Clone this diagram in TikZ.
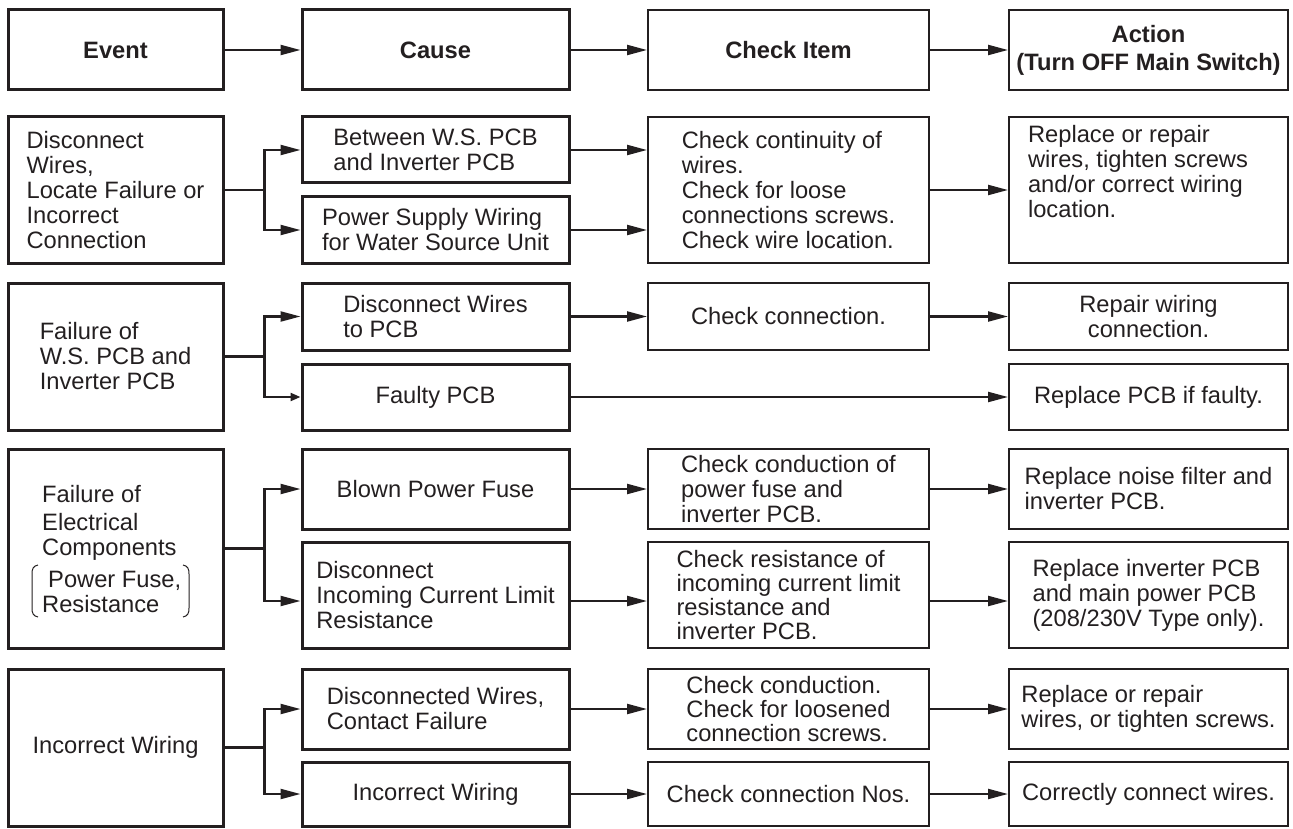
\documentclass[tikz,border=0pt]{standalone}
\usepackage{fontspec}
\setmainfont{Liberation Sans}
\usetikzlibrary{arrows.meta,calc}
\definecolor{ink}{HTML}{231F20}

\tikzset{
  body/.style={font=\fontsize{23.7}{25}\selectfont},
  txt/.style={body, text=ink, align=left, inner sep=0pt},
  boxbase/.style={draw=ink, rectangle, inner sep=0pt, body, text=ink, align=left},
  heavy/.style={boxbase, line width=3pt},
  light/.style={boxbase, line width=2pt},
  hdr/.style={font=\bfseries\fontsize{23.7}{28}\selectfont, align=center},
  wire/.style={draw=ink, line width=2.2pt},
  link/.style={wire, -{Triangle[length=20pt,width=10pt]}},
  linksmall/.style={wire, -{Triangle[length=10pt,width=8pt]}},
  paren/.style={draw=ink, line width=1pt},
}

% \boxat{name}{style}{left}{top}{right}{bottom}{text}
\newcommand\boxat[7]{%
  \node[#2, minimum width={#5-#3}, minimum height={#6-#4}] (#1)
    at ({(#3+#5)/2},{(#4+#6)/2}) {#7};}

\begin{document}
\begin{tikzpicture}[x=1pt,y=-1pt]
\useasboundingbox (0,0) rectangle (1293,829);

% column headings
\boxat{h1}{heavy,hdr}{8}{10}{223}{90}{Event}
\boxat{h2}{heavy,hdr}{302}{10}{569}{90}{Cause}
\boxat{h3}{light,hdr}{648}{10}{929}{90}{Check Item}
\boxat{h4}{light,hdr}{1009}{10}{1288}{90}{Action\\(Turn OFF Main Switch)}
\draw[link] (h1.east) -- (h2.west);
\draw[link] (h2.east) -- (h3.west);
\draw[link] (h3.east) -- (h4.west);

% wiring faults
\boxat{e1}{heavy}{8}{117}{223}{263}{Disconnect\\Wires,\\Locate Failure or\\Incorrect\\Connection}
\boxat{c1a}{heavy}{302}{117}{569}{183}{Between W.S. PCB\\and Inverter PCB}
\boxat{c1b}{heavy}{302}{197}{569}{263}{Power Supply Wiring\\for Water Source Unit}
\boxat{k1}{light}{648}{117}{929}{263}{Check continuity of\\wires.\\Check for loose\\connections screws.\\Check wire location.}
\boxat{a1}{light}{1009}{117}{1288}{263}{}
\node[txt] (a1t) at (1138,172) {Replace or repair\\wires, tighten screws\\and/or correct wiring\\location.};
\coordinate (b1) at ($(e1.east)+(40,0)$);
\draw[wire] (e1.east) -- (b1);
\draw[link] (b1) |- (c1a.west);
\draw[link] (b1) |- (c1b.west);
\draw[link] (c1a.east) -- (c1a.east -| k1.west);
\draw[link] (c1b.east) -- (c1b.east -| k1.west);
\draw[link] (k1.east) -- (a1.west);

% PCB failure
\boxat{e2}{heavy}{8}{283}{223}{430}{Failure of\\W.S. PCB and\\Inverter PCB}
\boxat{c2a}{heavy}{302}{283}{569}{350}{Disconnect Wires\\to PCB}
\boxat{c2b}{heavy,align=center}{302}{364}{569}{430}{Faulty PCB}
\boxat{k2}{light}{648}{283}{929}{350}{Check connection.}
\boxat{a2a}{light,align=center}{1009}{283}{1288}{350}{Repair wiring\\connection.}
\boxat{a2b}{light}{1009}{364}{1288}{430}{Replace PCB if faulty.}
\coordinate (b2) at ($(e2.east)+(40,0)$);
\draw[wire] (e2.east) -- (b2);
\draw[link] (b2) |- (c2a.west);
\draw[linksmall] (b2) |- (c2b.west);
\draw[link] (c2a.east) -- (k2.west);
\draw[link] (k2.east) -- (a2a.west);
\draw[link] (c2b.east) -- (a2b.west);

% electrical component failure
\boxat{e3}{heavy}{8}{449}{223}{648}{}
\node[txt, anchor=west] (e3t) at (42,549)
  {Failure of\\[3pt]Electrical\\Components\\[7pt]\hspace*{6pt}Power Fuse,\\Resistance};
\draw[paren] (38,565) .. controls (33,566) and (32,569) .. (32,574) -- (32,608)
  .. controls (32,613) and (33,616) .. (38,617);
\draw[paren] (183,565) .. controls (188,566) and (189,569) .. (189,574) -- (189,608)
  .. controls (189,613) and (188,616) .. (183,617);
\boxat{c3a}{heavy}{302}{449}{569}{529}{Blown Power Fuse}
\boxat{c3b}{heavy}{302}{542}{569}{648}{Disconnect\\Incoming Current Limit\\Resistance}
\boxat{k3a}{light}{648}{449}{929}{529}{Check conduction of\\power fuse and\\inverter PCB.}
\boxat{k3b}{light,font=\fontsize{23.7}{24}\selectfont}{648}{542}{929}{648}{Check resistance of\\incoming current limit\\resistance and\\inverter PCB.}
\boxat{a3a}{light}{1009}{449}{1288}{529}{Replace noise filter and\\inverter PCB.}
\boxat{a3b}{light}{1009}{542}{1288}{648}{Replace inverter PCB\\and main power PCB\\(208/230V Type only).}
\coordinate (b3) at ($(e3.east)+(40,0)$);
\draw[wire] (e3.east) -- (b3);
\draw[link] (b3) |- (c3a.west);
\draw[link] (b3) |- ([yshift=-6pt]c3b.west);
\draw[link] (c3a.east) -- (k3a.west);
\draw[link] (k3a.east) -- (a3a.west);
\draw[link] ([yshift=-6pt]c3b.east) -- ([yshift=-6pt]k3b.west);
\draw[link] ([yshift=-6pt]k3b.east) -- ([yshift=-6pt]a3b.west);

% wrong wiring
\boxat{e4}{heavy}{8}{669}{223}{826}{Incorrect Wiring}
\boxat{c4a}{heavy}{302}{669}{569}{749}{Disconnected Wires,\\Contact Failure}
\boxat{c4b}{heavy}{302}{762}{569}{826}{Incorrect Wiring}
\boxat{k4a}{light,font=\fontsize{23.7}{24}\selectfont}{648}{669}{929}{749}{Check conduction.\\Check for loosened\\connection screws.}
\boxat{k4b}{light}{648}{762}{929}{826}{Check connection Nos.}
\boxat{a4a}{light}{1009}{669}{1288}{749}{Replace or repair\\wires, or tighten screws.}
\boxat{a4b}{light}{1009}{762}{1288}{826}{Correctly connect wires.}
\coordinate (b4) at ($(e4.east)+(40,0)$);
\draw[wire] (e4.east) -- (b4);
\draw[link] (b4) |- (c4a.west);
\draw[link] (b4) |- (c4b.west);
\draw[link] (c4a.east) -- (k4a.west);
\draw[link] (k4a.east) -- (a4a.west);
\draw[link] (c4b.east) -- (k4b.west);
\draw[link] (k4b.east) -- (a4b.west);
\end{tikzpicture}
\end{document}
